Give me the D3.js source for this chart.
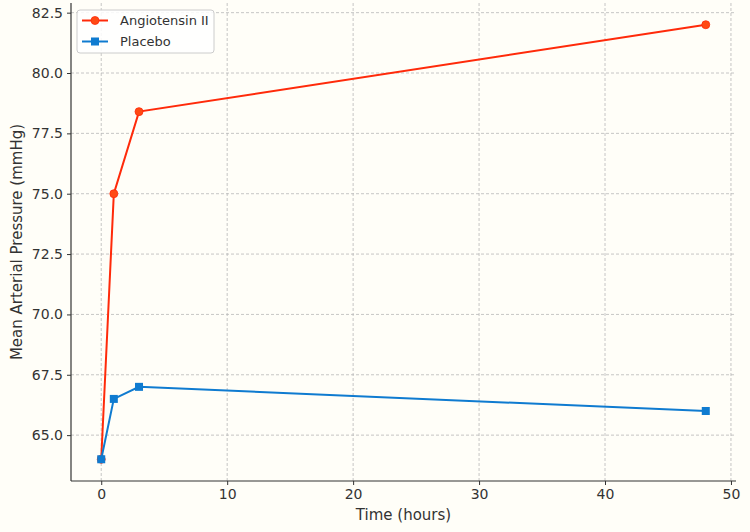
<!DOCTYPE html>
<html>
<head>
<meta charset="utf-8">
<script src="https://cdn.jsdelivr.net/npm/d3@7"></script>
<style>
  body { margin: 0; background: #fffef8; }
  text { font-family: "DejaVu Sans", sans-serif; fill: #333; }
</style>
</head>
<body>
<script>
var w = 750, h = 532;
var margin = {top: 3, right: 14, bottom: 51, left: 71};

// data
var hours = [0, 1, 3, 48];
var angiotensin = [64, 75, 78.4, 82];
var placebo = [64, 66.5, 67, 66];
var xTicks = [0, 10, 20, 30, 40, 50];
var yTicks = [65, 67.5, 70, 72.5, 75, 77.5, 80, 82.5];

var series = [
  {name: "Angiotensin II", values: angiotensin, line: "#ff2a0a", fill: "#ff4a14", shape: "circle"},
  {name: "Placebo", values: placebo, line: "#0f7bd0", fill: "#0f7bd0", shape: "square"}
];

var xScale = d3.scaleLinear().domain([-2.4, 50.4]).range([margin.left, w - margin.right]);
var yScale = d3.scaleLinear().domain([63.1, 82.9]).range([h - margin.bottom, margin.top]);

var svg = d3.select("body").append("svg")
  .attr("width", w)
  .attr("height", h);

svg.append("rect").attr("width", w).attr("height", h).attr("fill", "#fffef8");

// grid
svg.append("g").selectAll("line")
  .data(xTicks)
  .enter().append("line")
  .attr("x1", function(d) { return xScale(d); })
  .attr("x2", function(d) { return xScale(d); })
  .attr("y1", margin.top)
  .attr("y2", h - margin.bottom)
  .attr("stroke", "#b8b8b8")
  .attr("stroke-width", 0.8)
  .attr("stroke-dasharray", "3,2");

svg.append("g").selectAll("line")
  .data(yTicks)
  .enter().append("line")
  .attr("x1", margin.left)
  .attr("x2", w - margin.right)
  .attr("y1", function(d) { return yScale(d); })
  .attr("y2", function(d) { return yScale(d); })
  .attr("stroke", "#b8b8b8")
  .attr("stroke-width", 0.8)
  .attr("stroke-dasharray", "3,2");

// axes
var xAxis = svg.append("g")
  .attr("transform", "translate(0," + (h - margin.bottom) + ")")
  .call(d3.axisBottom(xScale).tickValues(xTicks).tickSize(4).tickPadding(4).tickFormat(d3.format("d")));
var yAxis = svg.append("g")
  .attr("transform", "translate(" + margin.left + ",0)")
  .call(d3.axisLeft(yScale).tickValues(yTicks).tickSize(4).tickPadding(4).tickFormat(d3.format(".1f")));

[xAxis, yAxis].forEach(function(a) {
  a.select(".domain").attr("stroke", "#333").attr("stroke-width", 1.2);
  a.selectAll(".tick line").attr("stroke", "#333");
  a.selectAll(".tick text").attr("font-size", 14).attr("font-family", "DejaVu Sans").attr("fill", "#333");
});
// keep the spine only over the plot area
xAxis.select(".domain").attr("d", "M" + margin.left + ",0H" + (w - margin.right));
yAxis.select(".domain").attr("d", "M0," + margin.top + "V" + (h - margin.bottom));

svg.append("text")
  .attr("x", (margin.left + w - margin.right) / 2)
  .attr("y", 520)
  .attr("text-anchor", "middle")
  .attr("font-size", 15)
  .text("Time (hours)");

svg.append("text")
  .attr("transform", "translate(22," + ((margin.top + h - margin.bottom) / 2) + ") rotate(-90)")
  .attr("text-anchor", "middle")
  .attr("font-size", 15)
  .text("Mean Arterial Pressure (mmHg)");

// lines and markers
var line = d3.line()
  .x(function(d, i) { return xScale(hours[i]); })
  .y(function(d) { return yScale(d); });

function drawMarker(g, s, x, y) {
  if (s.shape === "circle") {
    g.append("circle").attr("cx", x).attr("cy", y).attr("r", 4)
      .attr("fill", s.fill).attr("stroke", s.line).attr("stroke-width", 0.8);
  } else {
    g.append("rect").attr("x", x - 4).attr("y", y - 4).attr("width", 8).attr("height", 8)
      .attr("fill", s.fill);
  }
}

series.forEach(function(s) {
  var g = svg.append("g");
  g.append("path")
    .datum(s.values)
    .attr("d", line)
    .attr("fill", "none")
    .attr("stroke", s.line)
    .attr("stroke-width", 2);
  s.values.forEach(function(v, i) {
    drawMarker(g, s, xScale(hours[i]), yScale(v));
  });
});

// legend
var legend = svg.append("g").attr("transform", "translate(77,10)");
legend.append("rect")
  .attr("width", 137).attr("height", 43).attr("rx", 3)
  .attr("fill", "#ffffff").attr("fill-opacity", 0.85)
  .attr("stroke", "#cccccc").attr("stroke-width", 1);
series.forEach(function(s, i) {
  var y = 10.5 + i * 21;
  legend.append("line")
    .attr("x1", 5).attr("x2", 31).attr("y1", y).attr("y2", y)
    .attr("stroke", s.line).attr("stroke-width", 2);
  drawMarker(legend, s, 18, y);
  legend.append("text")
    .attr("x", 43).attr("y", y + 4.5)
    .attr("font-size", 13)
    .text(s.name);
});
</script>
</body>
</html>
